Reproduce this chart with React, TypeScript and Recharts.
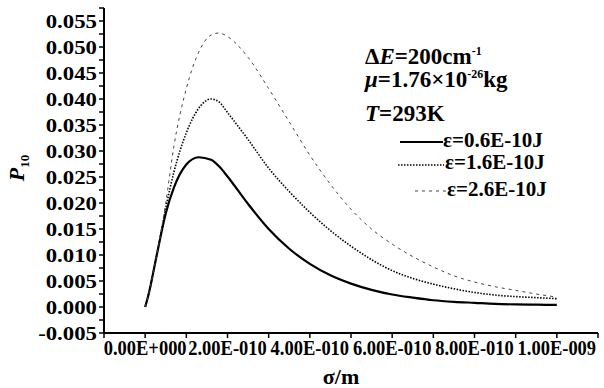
import { LineChart, Line, XAxis, YAxis } from "recharts";

// sigma in units of 1e-10 m
const sigma = [0, 0.1, 0.2, 0.3, 0.5, 0.7, 1.0, 1.3, 1.6, 1.8, 2.0, 2.5, 3.0, 3.5, 4.0, 4.5, 5.0, 5.5, 6.0, 6.5, 7.0, 7.5, 8.0, 8.5, 9.0, 9.5, 10];
const p06 = [0, 0.003, 0.0068, 0.0107, 0.018, 0.023, 0.0274, 0.0288, 0.0283, 0.027, 0.0251, 0.0198, 0.015, 0.0112, 0.0083, 0.0061, 0.0045, 0.0033, 0.0024, 0.0018, 0.0013, 0.001, 0.0008, 0.0006, 0.0005, 0.00045, 0.0004];
const p16 = [0, 0.003, 0.0068, 0.0107, 0.019, 0.026, 0.0335, 0.0382, 0.04, 0.0394, 0.0374, 0.0322, 0.0267, 0.0222, 0.0182, 0.0147, 0.0117, 0.0091, 0.007, 0.0055, 0.0044, 0.0035, 0.0028, 0.0023, 0.002, 0.0018, 0.0016];
const p26 = [0, 0.003, 0.0068, 0.0107, 0.02, 0.031, 0.042, 0.049, 0.0523, 0.0527, 0.052, 0.048, 0.042, 0.0356, 0.0292, 0.0236, 0.0188, 0.015, 0.0121, 0.0097, 0.0077, 0.006, 0.0048, 0.0039, 0.0032, 0.0025, 0.0019];

const xMajor = [0, 2, 4, 6, 8, 10];
const xMajorLabels = ["0.00E+000", "2.00E-010", "4.00E-010", "6.00E-010", "8.00E-010", "1.00E-009"];
const xMinor = [-1, 1, 3, 5, 7, 9, 11];
const yMajor = [-0.005, 0, 0.005, 0.01, 0.015, 0.02, 0.025, 0.03, 0.035, 0.04, 0.045, 0.05, 0.055];
const yMajorLabels = ["-0.005", "0.000", "0.005", "0.010", "0.015", "0.020", "0.025", "0.030", "0.035", "0.040", "0.045", "0.050", "0.055"];

const data = sigma.map((s, i) => ({ s, a: p06[i], b: p16[i], c: p26[i] }));
const xTicks = [...xMinor, ...xMajor].sort((a, b) => a - b);
const yTicks = [...yMajor, ...yMajor.map(v => v + 0.0025)].sort((a, b) => a - b);

const serif = { fontFamily: "Liberation Serif" };

function YTick(props: any) {
  const { x, y, payload } = props;
  const idx = yMajor.findIndex(v => Math.abs(v - payload.value) < 1e-6);
  if (idx < 0) return null;
  return (
    <g transform={`translate(${x},${y}) scale(1.2,1)`}>
      <text textAnchor="end" dy="0.36em" style={serif} fontWeight="bold" fontSize={19} fill="#000">
        {yMajorLabels[idx]}
      </text>
    </g>
  );
}

function XTick(props: any) {
  const { x, y, payload } = props;
  const idx = xMajor.indexOf(payload.value);
  if (idx < 0) return null;
  return (
    <g transform={`translate(${x},${y}) scale(0.88,1)`}>
      <text textAnchor="middle" dy="0.72em" style={serif} fontWeight="bold" fontSize={21} fill="#000">
        {xMajorLabels[idx]}
      </text>
    </g>
  );
}

function T(props: any) {
  return <text style={serif} fontWeight="bold" fill="#000" {...props} />;
}

function Notes() {
  return (
    <svg width={604} height={388} style={{ position: "absolute", left: 0, top: 0, pointerEvents: "none" }}>
      <T x={365} y={64} fontSize={23}>
        Δ<tspan fontStyle="italic">E</tspan>=200cm<tspan fontSize={12} dy={-9}>-1</tspan>
      </T>
      <T x={365} y={87} fontSize={23}>
        <tspan fontStyle="italic">μ</tspan>=1.76×10<tspan fontSize={12} dy={-9}>-26</tspan><tspan dy={9}>kg</tspan>
      </T>
      <T x={365} y={121} fontSize={23}>
        <tspan fontStyle="italic">T</tspan>=293K
      </T>
      <line x1={400} x2={443} y1={142} y2={142} stroke="#000" strokeWidth={2} />
      <T x={443} y={147} fontSize={21}>ε=0.6E-10J</T>
      <line x1={398} x2={444} y1={165} y2={165} stroke="#000" strokeWidth={1.5} strokeDasharray="1.5 1.5" />
      <T x={445} y={169} fontSize={21}>ε=1.6E-10J</T>
      <line x1={415} x2={446} y1={191} y2={191} stroke="#444" strokeWidth={1} strokeDasharray="3 4" />
      <T x={447} y={196} fontSize={21}>ε=2.6E-10J</T>
      <T transform="rotate(-90)" x={-168} y={24} textAnchor="middle" fontSize={22}>
        <tspan fontStyle="italic">P</tspan><tspan fontSize={13} dy={5}>10</tspan>
      </T>
      <T x={341} y={384} textAnchor="middle" fontSize={22}>σ/m</T>
    </svg>
  );
}

export default function App() {
  return (
    <div style={{ position: "absolute", left: 0, top: 0, width: 604, height: 388, background: "#fff", fontFamily: "Liberation Serif" }}>
      <LineChart width={604} height={388} data={data} margin={{ top: 8, right: 6, left: 0, bottom: 0 }}>
        <XAxis
          dataKey="s"
          type="number"
          domain={[-1, 11]}
          ticks={xTicks}
          interval={0}
          height={55}
          tick={<XTick />}
          tickSize={5}
          stroke="#000"
          strokeWidth={2}
          tickLine={{ stroke: "#000", strokeWidth: 1.5 }}
        />
        <YAxis
          type="number"
          domain={[-0.005, 0.0575]}
          ticks={yTicks}
          interval={0}
          width={104}
          tick={<YTick />}
          tickSize={5}
          stroke="#000"
          strokeWidth={2}
          tickLine={{ stroke: "#000", strokeWidth: 1.5 }}
        />
        <Line type="monotone" dataKey="a" stroke="#000" strokeWidth={2.2} dot={false} isAnimationActive={false} />
        <Line type="monotone" dataKey="b" stroke="#000" strokeWidth={1.6} strokeDasharray="1.5 1.5" dot={false} isAnimationActive={false} />
        <Line type="monotone" dataKey="c" stroke="#444" strokeWidth={1} strokeDasharray="3 4" dot={false} isAnimationActive={false} />
      </LineChart>
      <Notes />
    </div>
  );
}
